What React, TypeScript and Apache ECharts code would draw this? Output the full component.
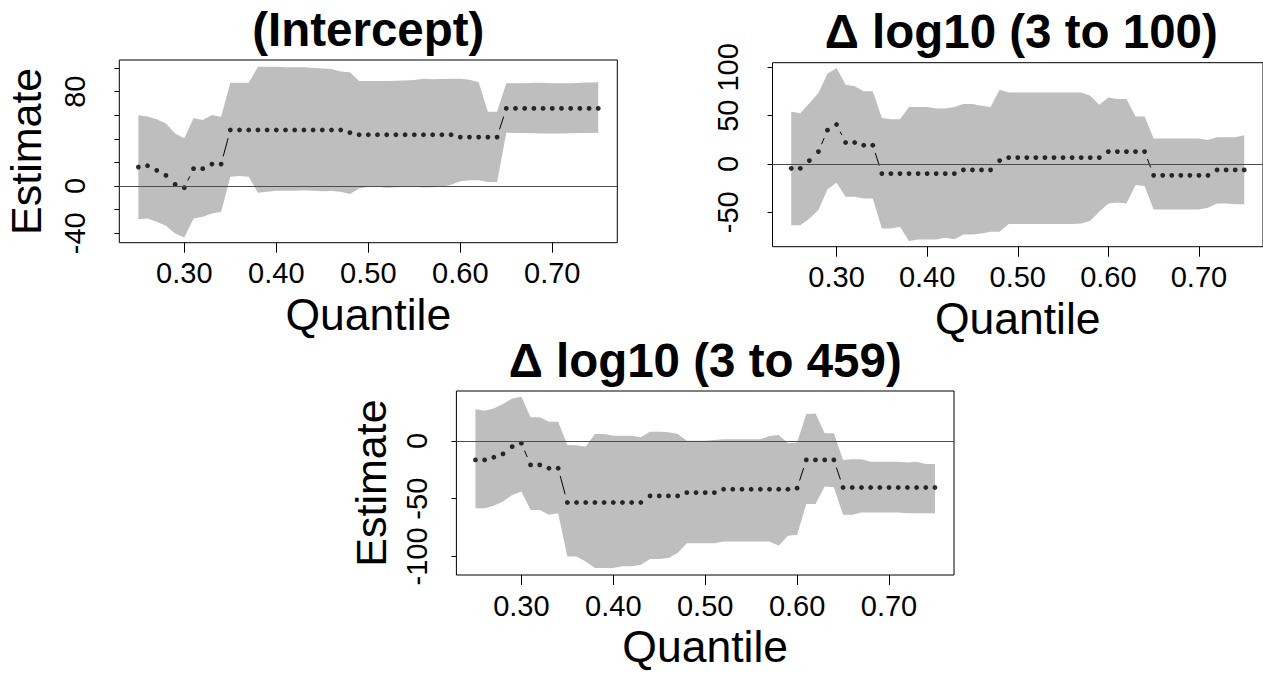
import { useEffect, useRef } from "react";
import * as echarts from "echarts";

// Quantiles at which the regression was fitted
const TAUS = [
  0.25, 0.26, 0.27, 0.28, 0.29, 0.3, 0.31, 0.32, 0.33, 0.34, 0.35, 0.36, 0.37,
  0.38, 0.39, 0.4, 0.41, 0.42, 0.43, 0.44, 0.45, 0.46, 0.47, 0.48, 0.49, 0.5,
  0.51, 0.52, 0.53, 0.54, 0.55, 0.56, 0.57, 0.58, 0.59, 0.6, 0.61, 0.62, 0.63,
  0.64, 0.65, 0.66, 0.67, 0.68, 0.69, 0.7, 0.71, 0.72, 0.73, 0.74, 0.75,
];

const X_TICKS = [0.3, 0.4, 0.5, 0.6, 0.7];

// (Intercept)
const INTERCEPT_EST = [
  16.1, 17.2, 13.3, 9.0, 1.4, -1.4, 14.7, 14.7, 18.6, 18.6,
  47.5, 47.5, 47.5, 47.5, 47.5, 47.5, 47.5, 47.5, 47.5, 47.5, 47.5, 47.5, 47.5,
  45.2,
  43.5, 43.5, 43.5, 43.5, 43.5, 43.5, 43.5, 43.5, 43.5, 43.5, 43.5,
  41.5, 41.5, 41.5, 41.5, 41.5,
  65.8, 65.8, 65.8, 65.8, 65.8, 65.8, 65.8, 65.8, 65.8, 65.8, 65.8,
];
const INTERCEPT_UPPER = [
  60, 59, 56.5, 53, 44.6, 40.4, 57.4, 56, 60.2, 58.7,
  87.5, 87.5, 87.5, 101, 101, 101, 100.6, 100.6, 100.6, 100, 99.5, 99.2, 97,
  96.5, 89, 89, 89, 89, 89.3, 89.5, 89.8, 91, 90.5, 90.8, 91, 91, 90, 88, 63,
  63, 87, 87, 87, 87.5, 87.5, 87, 87, 87, 87.5, 87.8, 88,
];
const INTERCEPT_LOWER = [
  -28.2, -27.4, -30.2, -33.6, -40.1, -43.5, -27.4, -26, -23.2, -21.8,
  7.9, 8.5, 7.9, -5.6, -4.8, -4, -4, -4, -3.5, -4, -4.5, -4.2, -4.8,
  -6.8, -2, -0.6, -0.6, -1.5, -1, -0.8, -0.5, -1.2, -1, -0.5, 1, 4, 5, 5, 3.5,
  3.5, 45.2, 45, 45, 44.8, 44.5, 44.5, 44.5, 44.8, 45, 45, 45.2,
];
const INTERCEPT_Y_TICKS = [-40, -20, 0, 20, 40, 60, 80, 100];
const INTERCEPT_Y_LABELS = [-40, 0, 80];

// Δ log10 (3 to 100)
const D100_EST = [
  -4.5, -4.5, 3.5, 12.8, 35, 40.9, 22.2, 22.2, 19.4, 19.4,
  -10, -10, -10, -10, -10, -10, -10, -10, -10,
  -6.2, -6.2, -6.2, -6.2,
  3.5,
  6.6, 6.6, 6.6, 6.6, 6.6, 6.6, 6.6, 6.6, 6.6, 6.6, 6.6,
  12.8, 12.8, 12.8, 12.8, 12.8,
  -11.8, -11.8, -11.8, -11.8, -11.8, -11.8, -11.8,
  -6.2, -6.2, -6.2, -6.2,
];
const D100_UPPER = [
  54, 52.6, 63, 73.4, 93.5, 99.4, 82, 80.4, 75.2, 75.2,
  47.5, 46.4, 46.4, 58.9, 58.9, 58.9, 57.5, 57.5, 58.9, 62, 62, 60.3, 58.9,
  76.9, 74.1, 74.1, 74.1, 74.1, 74.1, 74.1, 74.1, 74.1, 74.1, 70.7, 61.3,
  68.9, 67.2, 67.2, 49.2, 49.2, 26.3, 26.3, 26.3, 26.3, 26.3, 26.3, 24.9,
  27.7, 27.7, 27.7, 29.8,
];
const D100_LOWER = [
  -63.4, -63.4, -56.5, -47.8, -26.3, -19.4, -33.9, -33.9, -35.7, -35.7,
  -66.9, -66.9, -65.1, -79.7, -78.3, -78.3, -78.3, -76.5, -77.9, -73.1, -73.1,
  -72, -70.3, -70.3, -62.3, -62.3, -62.3, -62.3, -62.3, -62.3, -62.3, -62.3,
  -61.7, -58.9, -49.5, -40.9, -39.8, -40.9, -21.8, -22.9, -47.1, -47.1, -47.1,
  -47.1, -47.1, -47.1, -45.4, -40.9, -40.9, -41.6, -41.6,
];
const D100_Y_TICKS = [-50, 0, 50, 100];

// Δ log10 (3 to 459)
const D459_EST = [
  -16.4, -16.4, -14.1, -11.2, -4.9, -2, -20.7, -20.7, -23.6, -23.6,
  -53.3, -53.3, -53.3, -53.3, -53.3, -53.3, -53.3, -53.3, -53.3,
  -47.6, -47.6, -47.6, -47.6,
  -44.7, -44.7, -44.7, -44.7,
  -41.8, -41.8, -41.8, -41.8, -41.8, -41.8, -41.8, -41.8,
  -40.9,
  -16.4, -16.4, -16.4, -16.4,
  -40.3, -40.3, -40.3, -40.3, -40.3, -40.3, -40.3, -40.3, -40.3, -40.3, -40.3,
];
const D459_UPPER = [
  27.4, 26.2, 28.2, 32, 36.9, 38.3, 20.5, 20.5, 16.7, 16.7,
  -3.5, -3.7, -4.9, 6.1, 6.1, 4.6, 4.6, 4.6, 3.2, 8.1, 8.1, 7.5, 6.1,
  0.3, 0.3, 0.3, 0.9, 1.4, 1.4, 1.4, 1.4, 1.4, 4.3, 5.2, -2, -1.4, 23.3, 23.9,
  6.6, 6.6, -16.4, -15.9, -15.9, -17.9, -17.9, -17.9, -17.9, -18.7, -17.9,
  -19.9, -19.9,
];
const D459_LOWER = [
  -58.2, -58.2, -56.2, -52.4, -46.7, -43.8, -59.7, -59.7, -64, -62.5,
  -100, -100, -104.3, -110.1, -110.1, -110.1, -108.6, -108.6, -107.2, -102.3,
  -102.3, -101.4, -97.1, -88.5, -88.5, -88.5, -88.5, -87, -87, -87, -87, -87,
  -87, -90.8, -82.1, -81.3, -54.5, -54.5, -39.5, -40.1, -64, -64, -62, -62,
  -62, -62, -62, -62.5, -62.5, -62.5, -62.5,
];
const D459_Y_TICKS = [-100, -50, 0];

const FONT = '"Liberation Sans", Arial, Helvetica, sans-serif';

type Panel = {
  title: string;
  est: number[];
  upper: number[];
  lower: number[];
  yMin: number;
  yMax: number;
  yTicks: number[];
  yLabels: number[];
  yName: string;
  labelMargin: number;
  nameGap: number;
  grid: { left: number; top: number; width: number; height: number };
};

const PANELS: Panel[] = [
  {
    title: "(Intercept)",
    est: INTERCEPT_EST,
    upper: INTERCEPT_UPPER,
    lower: INTERCEPT_LOWER,
    yMin: -48,
    yMax: 106.8,
    yTicks: INTERCEPT_Y_TICKS,
    yLabels: INTERCEPT_Y_LABELS,
    yName: "Estimate",
    labelMargin: 30,
    nameGap: 72,
    grid: { left: 119.3, top: 60, width: 498, height: 182.7 },
  },
  {
    title: "Δ log10 (3 to 100)",
    est: D100_EST,
    upper: D100_UPPER,
    lower: D100_LOWER,
    yMin: -85.7,
    yMax: 104.9,
    yTicks: D100_Y_TICKS,
    yLabels: D100_Y_TICKS,
    yName: "",
    labelMargin: 30,
    nameGap: 72,
    grid: { left: 772.5, top: 62.7, width: 497.5, height: 184 },
  },
  {
    title: "Δ log10 (3 to 459)",
    est: D459_EST,
    upper: D459_UPPER,
    lower: D459_LOWER,
    yMin: -116.1,
    yMax: 43.3,
    yTicks: D459_Y_TICKS,
    yLabels: D459_Y_TICKS,
    yName: "Estimate",
    labelMargin: 25,
    nameGap: 64,
    grid: { left: 456.4, top: 391, width: 497.6, height: 184 },
  },
];

const EMPTY = { type: "group", children: [] };

function buildOption() {
  const grid: any[] = [];
  const xAxis: any[] = [];
  const yAxis: any[] = [];
  const series: any[] = [];
  const graphic: any[] = [];

  PANELS.forEach((p, k) => {
    grid.push({ ...p.grid, show: true, borderColor: "#000", borderWidth: 1, containLabel: false });

    xAxis.push({
      type: "value",
      gridIndex: k,
      min: 0.2293,
      max: 0.7707,
      axisLine: { show: false, onZero: false },
      splitLine: { show: false },
      axisTick: { show: true, length: 10, lineStyle: { color: "#000", width: 1 }, customValues: X_TICKS },
      axisLabel: {
        customValues: X_TICKS,
        formatter: (v: number) => v.toFixed(2),
        fontSize: 29,
        color: "#000",
        fontFamily: FONT,
        margin: 16,
      },
      name: "Quantile",
      nameLocation: "middle",
      nameGap: 49,
      nameTextStyle: { fontSize: 44.5, color: "#000", fontFamily: FONT },
    });

    yAxis.push({
      type: "value",
      gridIndex: k,
      min: p.yMin,
      max: p.yMax,
      axisLine: { show: false, onZero: false },
      splitLine: { show: false },
      axisTick: { show: true, length: 5, lineStyle: { color: "#000", width: 1 }, customValues: p.yTicks },
      axisLabel: {
        customValues: p.yLabels,
        rotate: 90,
        fontSize: 29,
        color: "#000",
        fontFamily: FONT,
        margin: p.labelMargin,
      },
      name: p.yName,
      nameLocation: "middle",
      nameRotate: 90,
      nameGap: p.nameGap,
      nameTextStyle: { fontSize: 43, color: "#000", fontFamily: FONT },
    });

    // confidence band, drawn as one polygon through the axis scales
    series.push({
      type: "custom",
      xAxisIndex: k,
      yAxisIndex: k,
      silent: true,
      z: 1,
      data: TAUS.map((t, i) => [t, p.lower[i], p.upper[i]]),
      encode: { x: 0, y: [1, 2] },
      renderItem: (params: any, api: any) => {
        if (params.dataIndex !== 0) return EMPTY;
        const top = TAUS.map((t, i) => api.coord([t, p.upper[i]]));
        const bottom = TAUS.map((t, i) => api.coord([t, p.lower[i]])).reverse();
        return {
          type: "polygon",
          shape: { points: top.concat(bottom) },
          style: { fill: "#bebebe", stroke: "none" },
        };
      },
    });

    // dashed connecting line between consecutive estimates
    const segs = TAUS.slice(0, -1).map((t, i) => [t, p.est[i], TAUS[i + 1], p.est[i + 1]]);
    series.push({
      type: "custom",
      xAxisIndex: k,
      yAxisIndex: k,
      silent: true,
      z: 3,
      data: segs,
      encode: { x: [0, 2], y: [1, 3] },
      renderItem: (_params: any, api: any) => {
        const a = api.coord([api.value(0), api.value(1)]);
        const b = api.coord([api.value(2), api.value(3)]);
        const dx = b[0] - a[0];
        const dy = b[1] - a[1];
        const len = Math.hypot(dx, dy);
        if (len < 17) return EMPTY;
        const ux = dx / len;
        const uy = dy / len;
        return {
          type: "line",
          shape: { x1: a[0] + ux * 8, y1: a[1] + uy * 8, x2: b[0] - ux * 8.5, y2: b[1] - uy * 8.5 },
          style: { stroke: "#000", lineWidth: 1 },
        };
      },
    });

    // point estimates, plus the zero reference line
    series.push({
      type: "scatter",
      xAxisIndex: k,
      yAxisIndex: k,
      symbol: "circle",
      symbolSize: 4.8,
      silent: true,
      z: 4,
      itemStyle: { color: "#000" },
      data: TAUS.map((t, i) => [t, p.est[i]]),
      markLine: {
        silent: true,
        symbol: ["none", "none"],
        label: { show: false },
        lineStyle: { color: "#4d4d4d", width: 1, type: "solid" },
        data: [{ yAxis: 0 }],
      },
    });

    graphic.push({
      type: "text",
      x: p.grid.left + p.grid.width / 2,
      y: p.grid.top - 31,
      silent: true,
      style: {
        text: p.title,
        fill: "#000",
        fontSize: 47.5,
        fontWeight: "bold",
        fontFamily: FONT,
        align: "center",
        verticalAlign: "middle",
      },
    });
  });

  return { animation: false, backgroundColor: "#fff", grid, xAxis, yAxis, series, graphic };
}

export default function App() {
  const ref = useRef<HTMLDivElement>(null);
  useEffect(() => {
    if (!ref.current) return;
    const chart = echarts.init(ref.current, undefined, { renderer: "svg" });
    chart.setOption(buildOption());
    return () => chart.dispose();
  }, []);
  return (
    <div
      ref={ref}
      style={{ position: "fixed", left: 0, top: 0, width: 1263, height: 673, background: "#fff" }}
    />
  );
}
